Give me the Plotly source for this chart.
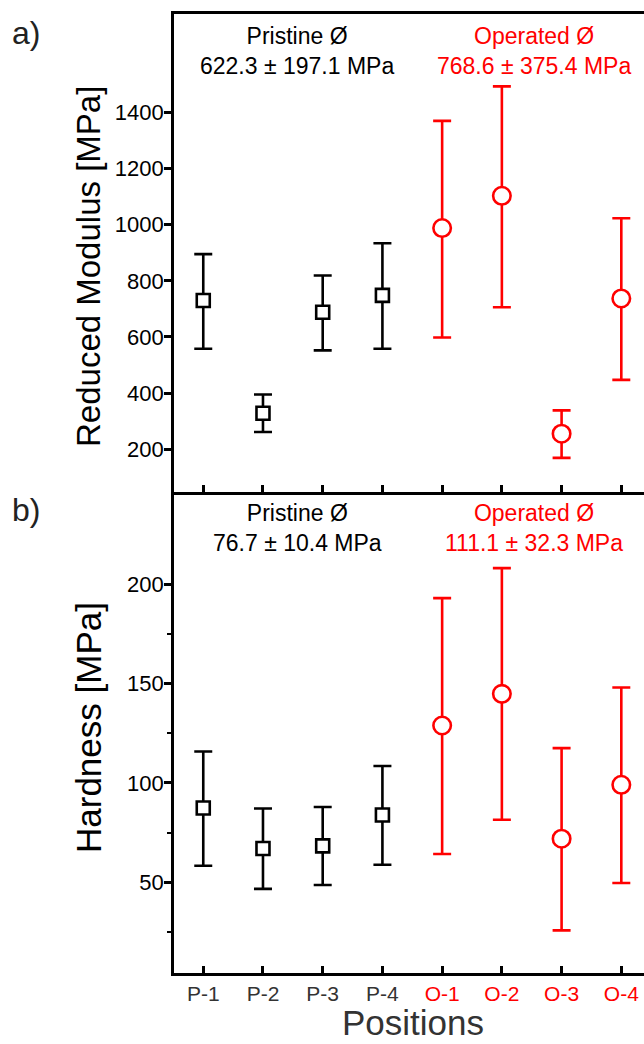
import plotly.graph_objects as go
from plotly.subplots import make_subplots

positions = ["P-1", "P-2", "P-3", "P-4", "O-1", "O-2", "O-3", "O-4"]
pristine_pos = ["P-1", "P-2", "P-3", "P-4"]
operated_pos = ["O-1", "O-2", "O-3", "O-4"]

# Reduced modulus [MPa]: mean, upper whisker end, lower whisker end
mod_pristine_mean = [730, 328, 688, 748]
mod_pristine_high = [895, 395, 819, 934]
mod_pristine_low = [558, 261, 552, 558]
mod_operated_mean = [988, 1103, 255, 737]
mod_operated_high = [1370, 1493, 338, 1023]
mod_operated_low = [598, 706, 169, 447]

# Hardness [MPa]
hard_pristine_mean = [87.4, 67.1, 68.4, 83.9]
hard_pristine_high = [115.8, 87.2, 87.9, 108.5]
hard_pristine_low = [58.4, 46.8, 48.7, 58.9]
hard_operated_mean = [128.9, 144.8, 72.0, 99.1]
hard_operated_high = [192.9, 208.0, 117.5, 148.0]
hard_operated_low = [64.3, 81.5, 25.9, 49.7]

mod_ticks = [200, 400, 600, 800, 1000, 1200, 1400]
hard_ticks = [50, 100, 150, 200]
hard_minor = [25, 75, 125, 175]

BLACK = "#000000"
RED = "#FF0000"
GRAY = "#333333"
FONT = "Liberation Sans, Arial, sans-serif"

W, H = 644, 1044
ML, MR, MT, MB = 174, 0, 14, 71
split_px = 491.5
plot_h = H - MT - MB
split = (H - MB - split_px) / plot_h

fig = make_subplots(rows=2, cols=1, shared_xaxes=False, vertical_spacing=0)


def err(mean, high, low):
    plus = [h - m for h, m in zip(high, mean)]
    minus = [m - l for m, l in zip(mean, low)]
    return plus, minus


def add_series(x, mean, high, low, color, symbol, size, row):
    plus, minus = err(mean, high, low)
    fig.add_trace(go.Scatter(
        x=x, y=mean, mode="markers",
        marker=dict(symbol=symbol, size=size, color="white",
                    line=dict(color=color, width=2.6)),
        error_y=dict(type="data", symmetric=False, array=plus, arrayminus=minus,
                     color=color, thickness=2.6, width=9),
        showlegend=False,
    ), row=row, col=1)


add_series(pristine_pos, mod_pristine_mean, mod_pristine_high, mod_pristine_low, BLACK, "square", 13, 1)
add_series(operated_pos, mod_operated_mean, mod_operated_high, mod_operated_low, RED, "circle", 17.5, 1)
add_series(pristine_pos, hard_pristine_mean, hard_pristine_high, hard_pristine_low, BLACK, "square", 13, 2)
add_series(operated_pos, hard_operated_mean, hard_operated_high, hard_operated_low, RED, "circle", 17.5, 2)

tick_text = [p if p.startswith("P") else f'<span style="color:{RED}">{p}</span>' for p in positions]

xcommon = dict(
    type="category", categoryorder="array", categoryarray=positions,
    range=[-0.49, 7.38], showline=True, linecolor=BLACK, linewidth=2.6,
    ticks="inside", ticklen=7, tickwidth=2.6, tickcolor=BLACK,
    showgrid=False, zeroline=False,
)
fig.update_xaxes(**xcommon, mirror=True, showticklabels=False, domain=[0, 1], row=1, col=1)
fig.update_xaxes(**xcommon, mirror=False, showticklabels=True, tickvals=positions, ticktext=tick_text,
                 tickfont=dict(family=FONT, size=21, color=GRAY), domain=[0, 1], row=2, col=1)

ycommon = dict(showline=True, linecolor=BLACK, linewidth=2.6, ticks="outside",
               ticklen=7, tickwidth=2.6, tickcolor=BLACK, showgrid=False, zeroline=False,
               ticklabelstandoff=-4,
               tickfont=dict(family=FONT, size=22, color=BLACK))
fig.update_yaxes(**ycommon, range=[49, 1751], tickvals=mod_ticks, domain=[split, 1], row=1, col=1)
fig.update_yaxes(**ycommon, range=[4.5, 246.5], tickvals=hard_ticks, domain=[0, split],
                 minor=dict(tickvals=hard_minor, ticks="outside", ticklen=4, tickwidth=2.2,
                            tickcolor=BLACK, showgrid=False),
                 row=2, col=1)


def px_x(px):
    return (px - ML) / (W - ML - MR)


def px_y(py):
    return (H - MB - py) / plot_h


PM = " ± "
ann = []
ann_font = dict(family=FONT, size=23)
ann.append(dict(text="Pristine Ø<br>622.3" + PM + "197.1 MPa", x=1.57, y=px_y(51),
                xref="x", yref="paper", showarrow=False, font=dict(**ann_font, color=BLACK),
                xanchor="center", yanchor="middle", align="center"))
ann.append(dict(text="Operated Ø<br>768.6" + PM + "375.4 MPa", x=5.54, y=px_y(51),
                xref="x", yref="paper", showarrow=False, font=dict(**ann_font, color=RED),
                xanchor="center", yanchor="middle", align="center"))
ann.append(dict(text="Pristine Ø<br>76.7" + PM + "10.4 MPa", x=1.57, y=px_y(528),
                xref="x2", yref="paper", showarrow=False, font=dict(**ann_font, color=BLACK),
                xanchor="center", yanchor="middle", align="center"))
ann.append(dict(text="Operated Ø<br>111.1" + PM + "32.3 MPa", x=5.54, y=px_y(528),
                xref="x2", yref="paper", showarrow=False, font=dict(**ann_font, color=RED),
                xanchor="center", yanchor="middle", align="center"))
# panel labels
ann.append(dict(text="a)", x=px_x(10), y=px_y(33), xref="paper", yref="paper", showarrow=False,
                font=dict(family=FONT, size=32, color="#222222"), xanchor="left", yanchor="middle"))
ann.append(dict(text="b)", x=px_x(10), y=px_y(510), xref="paper", yref="paper", showarrow=False,
                font=dict(family=FONT, size=32, color="#222222"), xanchor="left", yanchor="middle"))
# axis titles
ann.append(dict(text="Reduced Modulus [MPa]", x=px_x(88), y=px_y(267), xref="paper", yref="paper",
                showarrow=False, textangle=-90, font=dict(family=FONT, size=33, color=BLACK),
                xanchor="center", yanchor="middle"))
ann.append(dict(text="Hardness [MPa]", x=px_x(88), y=px_y(728), xref="paper", yref="paper",
                showarrow=False, textangle=-90, font=dict(family=FONT, size=35, color=BLACK),
                xanchor="center", yanchor="middle"))
ann.append(dict(text="Positions", x=px_x(413), y=px_y(1044), xref="paper", yref="paper",
                showarrow=False, font=dict(family=FONT, size=35, color=GRAY),
                xanchor="center", yanchor="bottom"))

fig.update_layout(
    width=W, height=H, margin=dict(l=ML, r=MR, t=MT, b=MB, pad=0),
    plot_bgcolor="white", paper_bgcolor="white",
    annotations=ann, showlegend=False,
    font=dict(family=FONT),
)

fig.write_html("out.html", config={"displayModeBar": False},
               post_script="document.body.style.margin='0';")
